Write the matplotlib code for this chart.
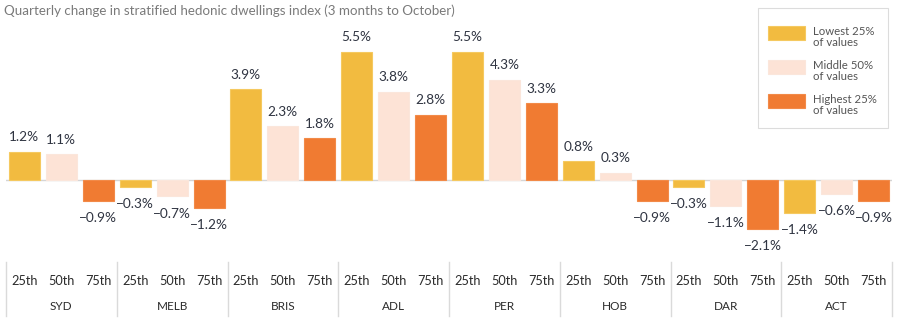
import matplotlib
matplotlib.use("Agg")
import matplotlib.pyplot as plt
from matplotlib.patches import Rectangle

plt.rcParams['font.family'] = ['Lato', 'DejaVu Sans']

cities = ["SYD", "MELB", "BRIS", "ADL", "PER", "HOB", "DAR", "ACT"]
tiers = ["25th", "50th", "75th"]
lowest = [1.2, -0.3, 3.9, 5.5, 5.5, 0.8, -0.3, -1.4]
middle = [1.1, -0.7, 2.3, 3.8, 4.3, 0.3, -1.1, -0.6]
highest = [-0.9, -1.2, 1.8, 2.8, 3.3, -0.9, -2.1, -0.9]
legend_labels = ["Lowest 25%\nof values", "Middle 50%\nof values", "Highest 25%\nof values"]

colors = ["#F2BB40", "#FDE3D6", "#F07B32"]
edge = ["#F5C960", "#FBE6DB", "#F28A48"]
text_col = "#2F3441"

W, H = 897, 323
fig = plt.figure(figsize=(W / 100, H / 100), dpi=100)

left_px, right_px, top_px, bottom_px = 6, 892, 0, 245
ax = fig.add_axes([left_px / W, 1 - bottom_px / H, (right_px - left_px) / W, (bottom_px - top_px) / H])
ax.set_xlim(-0.5, 23.5)
ax.set_ylim(-2.79, 7.73)
ax.axis("off")

series = [lowest, middle, highest]
for s, vals in enumerate(series):
    for g, v in enumerate(vals):
        x = g * 3 + s
        ax.bar(x, v, width=0.84, color=colors[s], edgecolor=edge[s], linewidth=0.8, zorder=2)
        off = 10.5 if v >= 0 else -12.5
        ax.annotate(f"{v:.1f}%".replace("-", "\u2212"), (x, v), xytext=(0, off),
                    textcoords="offset points", ha="center", va="center",
                    fontsize=9.8, color=text_col)

ax.axhline(0, color="#D5D5D5", linewidth=1.0, zorder=1)

# category table under the bars
def fx(xdata):
    return ax.transData.transform((xdata, 0))[0] / W

for b in range(len(cities) + 1):
    xb = fx(b * 3 - 0.5)
    fig.add_artist(plt.Line2D([xb, xb], [1 - 262 / H, 1 - 316 / H], color="#DADADA", linewidth=1.0))
for g, c in enumerate(cities):
    for s, t in enumerate(tiers):
        fig.text(fx(g * 3 + s), 1 - 281 / H, t, ha="center", va="center", fontsize=9.2, color="#2B2B2B")
    fig.text(fx(g * 3 + 1), 1 - 307 / H, c, ha="center", va="center", fontsize=8.5, color="#2B2B2B")

fig.text(4 / W, 1 - 11 / H, "Quarterly change in stratified hedonic dwellings index (3 months to October)",
         ha="left", va="center", fontsize=9.6, color="#7A7A7A")

# legend box
fig.add_artist(Rectangle((758 / W, 1 - 128 / H), 130 / W, 120 / H, transform=fig.transFigure,
                         facecolor="white", edgecolor="#DCDCDC", linewidth=0.8, zorder=5))
for i, lab in enumerate(legend_labels):
    yc = 33 + i * 34
    fig.add_artist(Rectangle((768 / W, 1 - (yc + 7) / H), 37 / W, 14 / H, transform=fig.transFigure,
                             facecolor=colors[i], edgecolor=edge[i], linewidth=0.8, zorder=6))
    fig.text(813 / W, 1 - (yc + 4) / H, lab, ha="left", va="center", fontsize=8.2,
             color="#555555", linespacing=1.1, zorder=7)

fig.savefig("out.png", dpi=100)
